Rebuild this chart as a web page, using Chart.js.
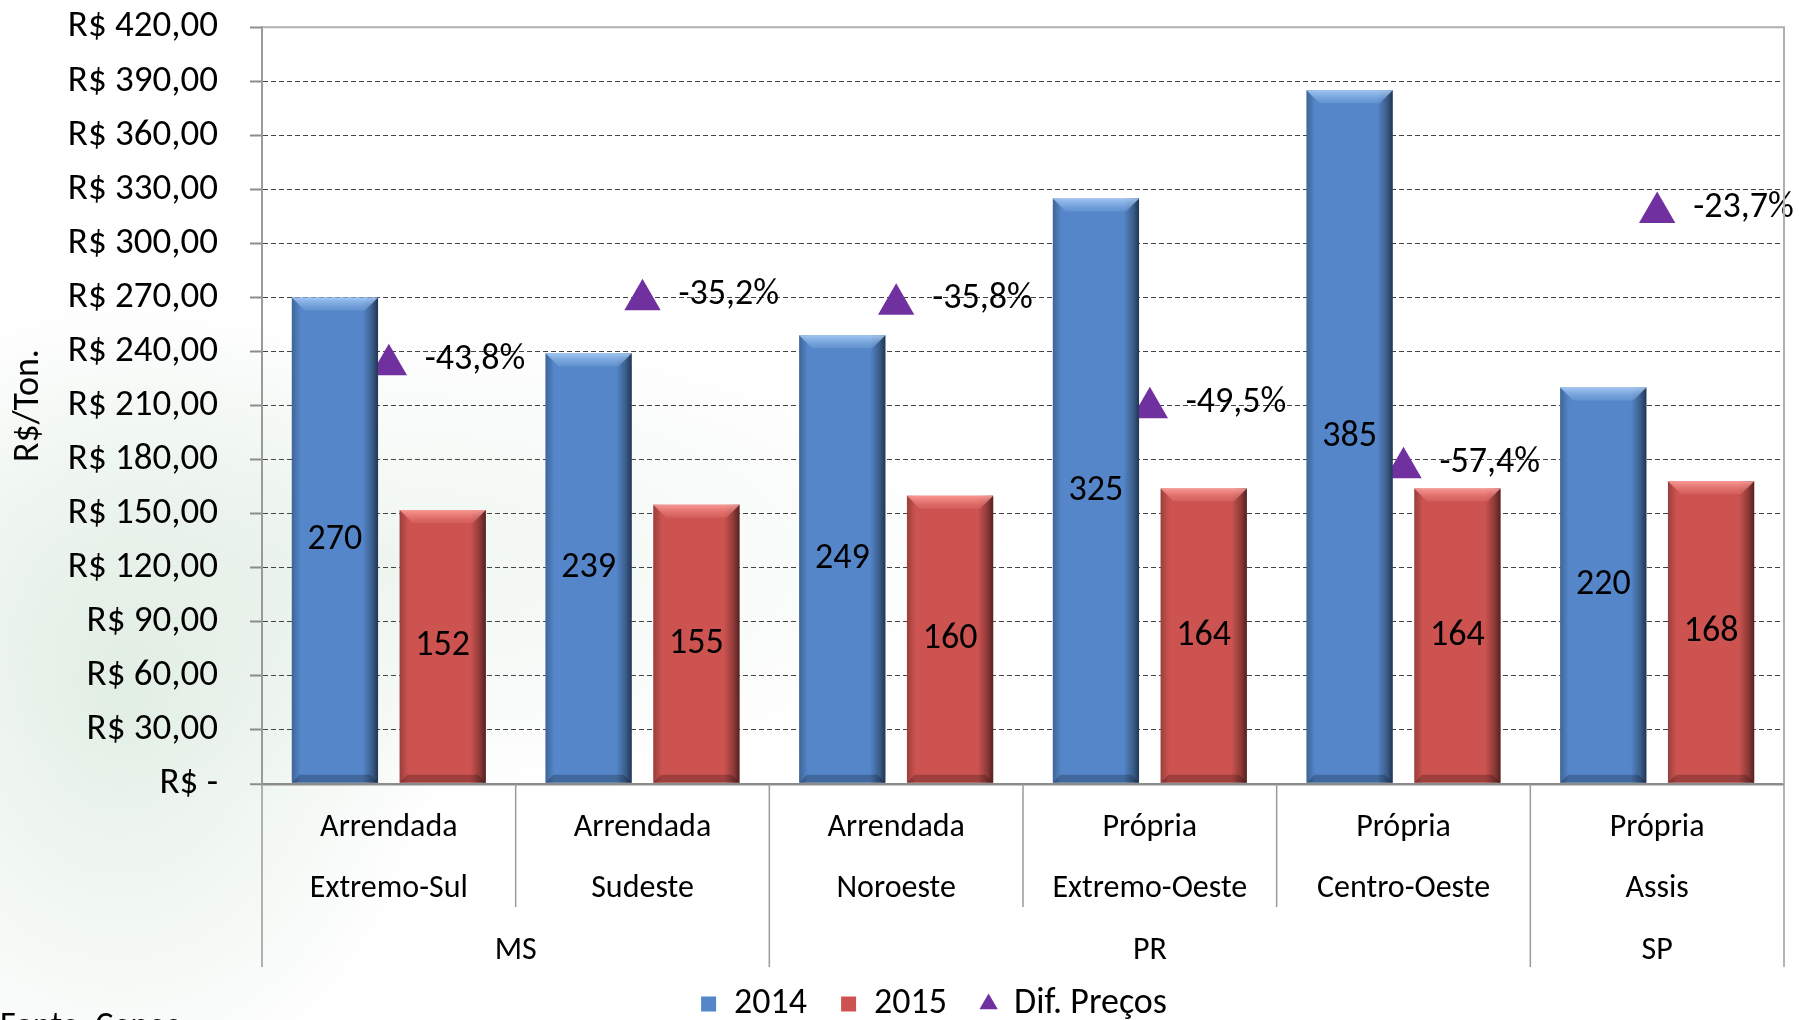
<!DOCTYPE html>
<html>
<head>
<meta charset="utf-8">
<script src="https://cdn.jsdelivr.net/npm/chart.js@4.4.1/dist/chart.umd.min.js"></script>
<style>
  html, body { margin: 0; padding: 0; overflow: hidden; background: #fff; }
  #wrap {
    position: relative; width: 1799px; height: 1020px; overflow: hidden;
    background:
      radial-gradient(ellipse 330px 420px at 120px 700px, rgba(200, 224, 204, 0.5), rgba(255,255,255,0) 100%),
      radial-gradient(ellipse 600px 250px at 400px 560px, rgba(218, 234, 221, 0.4), rgba(255,255,255,0) 100%);
  }
  #chartCanvas { position: absolute; left: 0; top: -27px; }
  #fonte {
    position: absolute; left: 0; top: 1004px;
    font-family: Carlito, "Liberation Sans Narrow", "Open Sans", sans-serif;
    font-size: 34px; color: #000;
  }
</style>
</head>
<body>
<div id="wrap">
  <canvas id="chartCanvas" width="1799" height="1059"></canvas>
  <div id="fonte">Fonte: Cepea</div>
</div>
<script>
// dados
const tipos = ['Arrendada', 'Arrendada', 'Arrendada', 'Própria', 'Própria', 'Própria'];
const regioes = ['Extremo-Sul', 'Sudeste', 'Noroeste', 'Extremo-Oeste', 'Centro-Oeste', 'Assis'];
const estados = ['MS', 'PR', 'SP'];
const estadosQtd = [2, 3, 1];
const valores2014 = [270, 239, 249, 325, 385, 220];
const valores2015 = [152, 155, 160, 164, 164, 168];
const difPrecos = [-43.8, -35.2, -35.8, -49.5, -57.4, -23.7];

const FONTE = 'Carlito, "Liberation Sans Narrow", "Open Sans", sans-serif';
const AZUL = '#5486C9';
const VERMELHO = '#CC5350';
const ROXO = '#7030A0';

function moeda(v) {
  if (v === 0) return 'R$ -';
  return 'R$ ' + v.toFixed(2).replace('.', ',');
}

// efeito de bisel nas barras
const biselPlugin = {
  id: 'bisel',
  afterDatasetsDraw(chart) {
    const ctx = chart.ctx;
    [0, 1].forEach(di => {
      const meta = chart.getDatasetMeta(di);
      const claro = di === 0 ? ['rgba(170,205,248,0.9)', 'rgba(120,165,220,0.4)'] : ['rgba(255,160,155,0.9)', 'rgba(225,110,105,0.4)'];
      meta.data.forEach(bar => {
        const x0 = bar.x - bar.width / 2, x1 = bar.x + bar.width / 2;
        const top = bar.y, base = bar.base;
        const b = 13;
        ctx.save();
        // sombras laterais
        const g = ctx.createLinearGradient(x0, 0, x1, 0);
        g.addColorStop(0, 'rgba(0,0,0,0.25)');
        g.addColorStop(0.1, 'rgba(0,0,0,0)');
        g.addColorStop(0.82, 'rgba(0,0,0,0)');
        g.addColorStop(0.93, 'rgba(0,0,0,0.3)');
        g.addColorStop(1, 'rgba(0,0,0,0.6)');
        ctx.fillStyle = g;
        ctx.fillRect(x0, top, x1 - x0, base - top);
        // topo claro
        const gt = ctx.createLinearGradient(0, top, 0, top + b);
        gt.addColorStop(0, claro[0]);
        gt.addColorStop(1, claro[1]);
        ctx.beginPath();
        ctx.moveTo(x0, top);
        ctx.lineTo(x1, top);
        ctx.lineTo(x1 - b, top + b);
        ctx.lineTo(x0 + b, top + b);
        ctx.closePath();
        ctx.fillStyle = gt;
        ctx.fill();
        // base escura
        ctx.beginPath();
        ctx.moveTo(x0, base);
        ctx.lineTo(x1, base);
        ctx.lineTo(x1 - 8, base - 8);
        ctx.lineTo(x0 + 8, base - 8);
        ctx.closePath();
        ctx.fillStyle = 'rgba(0,0,0,0.22)';
        ctx.fill();
        ctx.restore();
      });
    });
  }
};

// rótulos de dados
const rotulosPlugin = {
  id: 'rotulos',
  afterDatasetsDraw(chart) {
    const ctx = chart.ctx;
    ctx.save();
    ctx.fillStyle = '#000';
    ctx.font = '36px ' + FONTE;
    ctx.textBaseline = 'middle';
    [0, 1].forEach(di => {
      const ds = chart.data.datasets[di];
      chart.getDatasetMeta(di).data.forEach((bar, i) => {
        ctx.textAlign = 'center';
        ctx.fillText(String(ds.data[i]), bar.x, (bar.y + bar.base) / 2);
      });
    });
    const ds = chart.data.datasets[2];
    chart.getDatasetMeta(2).data.forEach((pt, i) => {
      ctx.textAlign = 'left';
      ctx.fillText(ds.data[i].toFixed(1).replace('.', ',') + '%', pt.x + 36, pt.y - 5);
    });
    ctx.restore();
  }
};

// divisórias e rótulos de estado no eixo x
const eixoPlugin = {
  id: 'eixo',
  afterLayout(chart) {
    // a legenda do original fica um pouco à direita do centro
    if (chart.legend) {
      chart.legend.left += 42;
      chart.legend.right += 42;
    }
  },
  afterDraw(chart) {
    const ctx = chart.ctx;
    const x = chart.scales.x;
    const area = chart.chartArea;
    const larg = (x.right - x.left) / tipos.length;
    const limites = [0];
    estadosQtd.forEach(q => limites.push(limites[limites.length - 1] + q));
    ctx.save();
    // moldura superior e direita
    ctx.strokeStyle = '#b0b0b0';
    ctx.lineWidth = 2;
    ctx.beginPath();
    ctx.moveTo(area.left, area.top);
    ctx.lineTo(area.right, area.top);
    ctx.lineTo(area.right, area.bottom);
    ctx.stroke();
    ctx.strokeStyle = '#9a9a9a';
    ctx.lineWidth = 1.5;
    for (let i = 0; i <= tipos.length; i++) {
      const px = x.left + larg * i;
      const longa = limites.includes(i);
      ctx.beginPath();
      ctx.moveTo(px, area.bottom);
      ctx.lineTo(px, area.bottom + (longa ? 183 : 123));
      ctx.stroke();
    }
    ctx.fillStyle = '#000';
    ctx.font = '32px ' + FONTE;
    ctx.textAlign = 'center';
    ctx.textBaseline = 'middle';
    estados.forEach((e, k) => {
      const cx = x.left + larg * (limites[k] + limites[k + 1]) / 2;
      ctx.fillText(e, cx, area.bottom + 167);
    });
    ctx.restore();
  }
};

const ctx = document.getElementById('chartCanvas').getContext('2d');
new Chart(ctx, {
  type: 'bar',
  data: {
    labels: tipos.map((t, i) => [t, regioes[i]]),
    datasets: [
      {
        label: '2014',
        data: valores2014,
        backgroundColor: AZUL,
        pointStyle: 'rect',
        categoryPercentage: 0.85,
        barPercentage: 0.8,
        yAxisID: 'y'
      },
      {
        label: '2015',
        data: valores2015,
        backgroundColor: VERMELHO,
        pointStyle: 'rect',
        categoryPercentage: 0.85,
        barPercentage: 0.8,
        yAxisID: 'y'
      },
      {
        type: 'line',
        label: 'Dif. Preços',
        data: difPrecos,
        showLine: false,
        pointStyle: 'triangle',
        pointRadius: 21,
        pointHoverRadius: 21,
        backgroundColor: ROXO,
        borderColor: ROXO,
        borderWidth: 0,
        yAxisID: 'y2'
      }
    ]
  },
  options: {
    responsive: false,
    animation: false,
    layout: { autoPadding: false, padding: { left: 0, right: 15, top: 52, bottom: 0 } },
    plugins: {
      tooltip: { enabled: false },
      legend: {
        position: 'bottom',
        labels: {
          usePointStyle: true,
          boxWidth: 15,
          boxHeight: 15,
          padding: 34,
          color: '#000',
          font: { family: FONTE, size: 36 }
        }
      }
    },
    scales: {
      x: {
        grid: { display: false, drawTicks: false },
        border: { display: false },
        ticks: {
          color: '#000',
          padding: 14,
          maxRotation: 0,
          autoSkip: false,
          font: { family: FONTE, size: 32, lineHeight: 1.9 }
        },
        afterFit(scale) { scale.height = 168; }
      },
      y: {
        min: 0,
        max: 420,
        ticks: {
          stepSize: 30,
          color: '#000',
          padding: 32,
          font: { family: FONTE, size: 37 },
          callback: v => moeda(v)
        },
        grid: {
          color: c => (c.tick && c.tick.value === 0) ? '#8c8c8c' : '#444',
          lineWidth: c => (c.tick && c.tick.value === 0) ? 2.5 : 1,
          tickLength: 12,
          tickColor: '#8c8c8c',
          tickWidth: 2,
          tickBorderDash: []
        },
        border: {
          color: '#9a9a9a',
          width: 2,
          dash: c => (c.type === 'tick' && c.tick.value !== 0 && c.tick.value !== 420) ? [5, 3] : []
        },
        title: {
          display: true,
          text: 'R$/Ton.',
          color: '#000',
          padding: { top: 7, bottom: 0 },
          font: { family: FONTE, size: 36 }
        },
        afterFit(scale) { scale.width = 262; }
      },
      y2: {
        display: false,
        min: -99.2,
        max: 0.8
      }
    }
  },
  plugins: [biselPlugin, rotulosPlugin, eixoPlugin]
});
</script>
</body>
</html>
